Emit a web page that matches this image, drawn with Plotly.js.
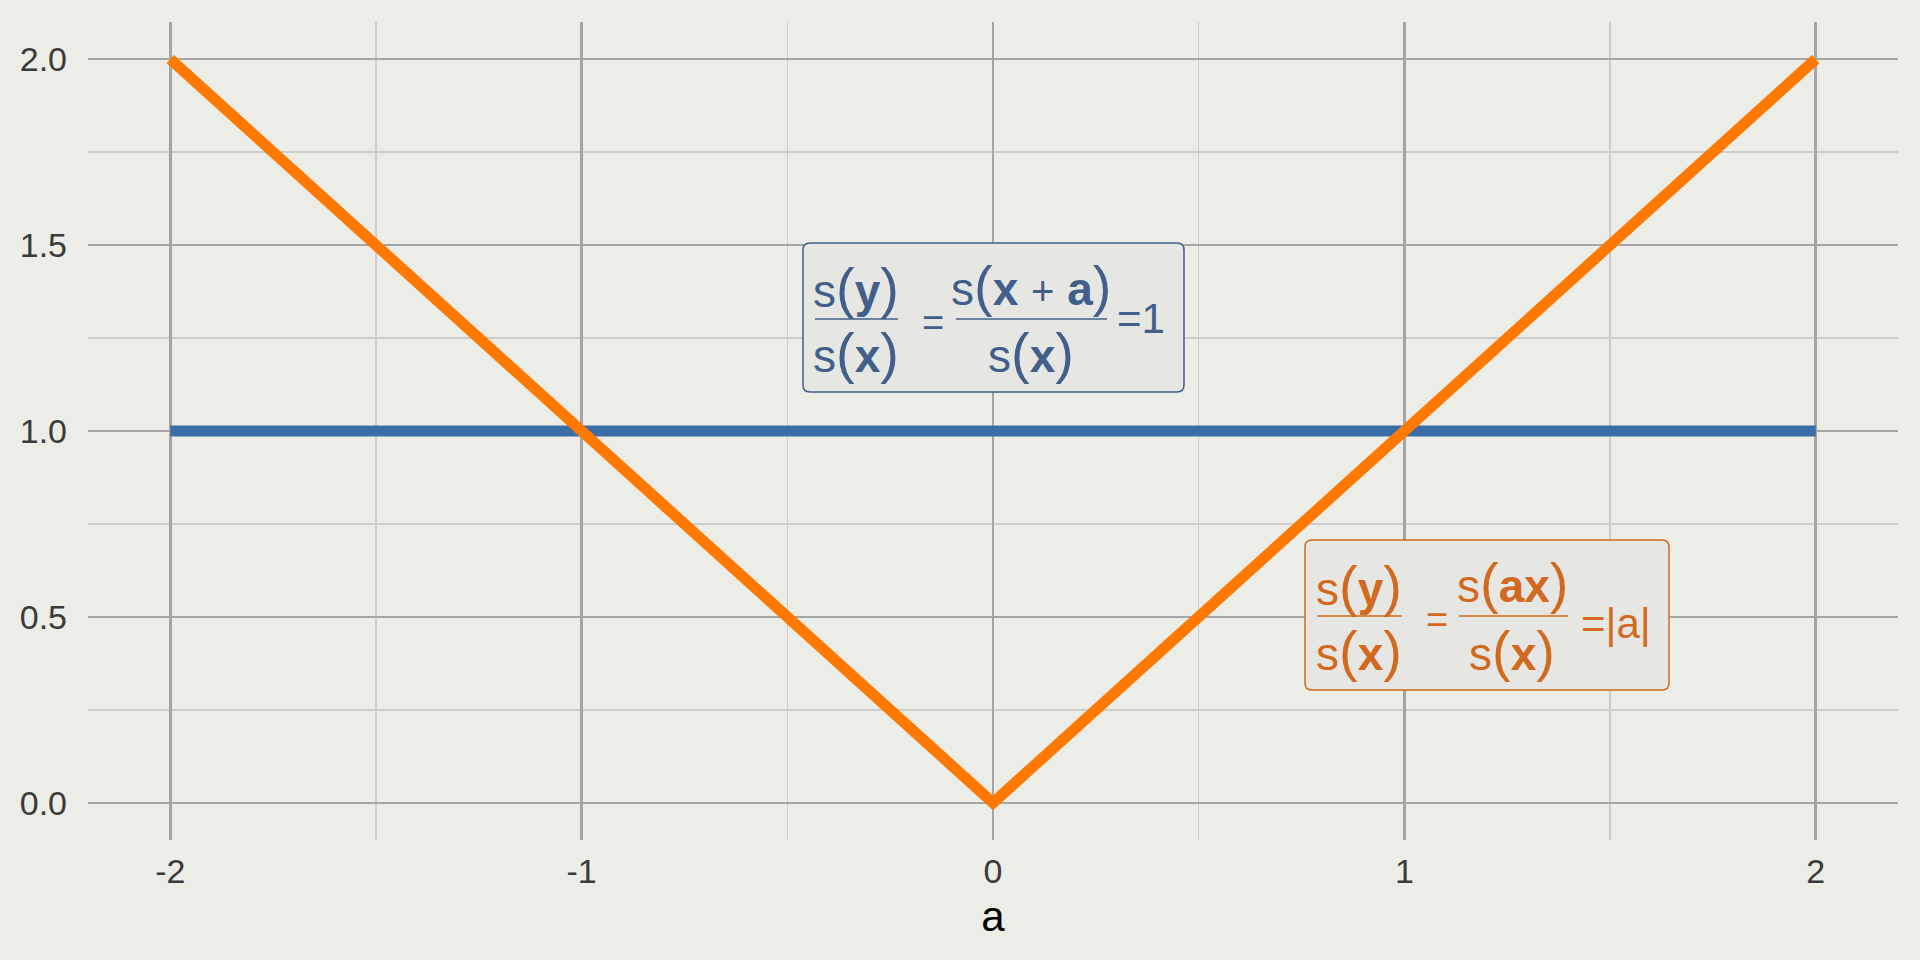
<!DOCTYPE html>
<html>
<head>
<meta charset="utf-8">
<script src="https://cdn.plot.ly/plotly-3.0.1.min.js"></script>
<style>html,body{margin:0;padding:0;background:#ecede6;}</style>
</head>
<body>
<div id="chart" style="width:1920px;height:960px;"></div>
<script>
// ---- data ----
const aValues = [-2, -1.5, -1, -0.5, 0, 0.5, 1, 1.5, 2];
const translationRatio = [1, 1, 1, 1, 1, 1, 1, 1, 1];
const scalingRatio = [2, 1.5, 1, 0.5, 0, 0.5, 1, 1.5, 2];
const xTickVals = [-2, -1, 0, 1, 2];
const xTickText = ['-2', '-1', '0', '1', '2'];
const yTickVals = [0, 0.5, 1, 1.5, 2];
const yTickText = ['0.0', '0.5', '1.0', '1.5', '2.0'];

// ---- styling ----
const W = 1920, H = 960;
const M = {l: 88, r: 22, t: 22, b: 120};
const PW = W - M.l - M.r, PH = H - M.t - M.b;
const BG = '#ecede6';
const BLUE_LINE = '#3a6ca8', ORANGE_LINE = '#ff7800';
const BLUE_TXT = '#405f8b', ORANGE_TXT = '#d2691e';
const FONT = 'Liberation Sans, Arial, Helvetica, sans-serif';

function px(x) { return (x - M.l) / PW; }
function py(y) { return (H - M.b - y) / PH; }

function roundedBox(x0, y0, x1, y1, r, color) {
  const pts = (x, y) => px(x) + ',' + py(y);
  const path = 'M' + pts(x0 + r, y0) + ' L' + pts(x1 - r, y0) +
    ' Q' + pts(x1, y0) + ' ' + pts(x1, y0 + r) +
    ' L' + pts(x1, y1 - r) + ' Q' + pts(x1, y1) + ' ' + pts(x1 - r, y1) +
    ' L' + pts(x0 + r, y1) + ' Q' + pts(x0, y1) + ' ' + pts(x0, y1 - r) +
    ' L' + pts(x0, y0 + r) + ' Q' + pts(x0, y0) + ' ' + pts(x0 + r, y0) + ' Z';
  return {type: 'path', xref: 'paper', yref: 'paper', path: path,
    fillcolor: '#e6e6e2', line: {color: color, width: 1.5}, layer: 'above'};
}
function hline(x0, x1, y, color) {
  return {type: 'line', xref: 'paper', yref: 'paper', x0: px(x0), x1: px(x1),
    y0: py(y), y1: py(y), line: {color: color, width: 1.5}, layer: 'above'};
}
function txt(x, y, text, color, size) {
  return {xref: 'paper', yref: 'paper', x: px(x), y: py(y), text: text,
    showarrow: false, xanchor: 'center', yanchor: 'middle',
    font: {family: FONT, size: size, color: color}};
}
const P = (c) => '<span style="font-size:56px">' + c + '</span>';
const sOf = (inner) => 's' + P('(') + inner + P(')');

const shapes = [
  roundedBox(803, 243, 1184, 392, 7, BLUE_TXT),
  hline(815, 898, 319, BLUE_TXT),
  hline(956, 1107, 319, BLUE_TXT),
  roundedBox(1305, 540, 1669, 690, 7, ORANGE_TXT),
  hline(1317, 1402, 616, ORANGE_TXT),
  hline(1459, 1568, 616, ORANGE_TXT)
];
const annotations = [
  txt(856, 287, sOf('<b>y</b>'), BLUE_TXT, 46),
  txt(856, 353, sOf('<b>x</b>'), BLUE_TXT, 46),
  txt(933, 323, '=', BLUE_TXT, 38),
  txt(1031, 285, sOf('<b>x</b> <span style="font-size:40px">+</span> <b>a</b>'), BLUE_TXT, 46),
  txt(1031, 353, sOf('<b>x</b>'), BLUE_TXT, 46),
  txt(1141, 318, '=1', BLUE_TXT, 42),
  txt(1359, 585, sOf('<b>y</b>'), ORANGE_TXT, 46),
  txt(1359, 650, sOf('<b>x</b>'), ORANGE_TXT, 46),
  txt(1437, 620, '=', ORANGE_TXT, 38),
  txt(1512, 582, sOf('<b>ax</b>'), ORANGE_TXT, 46),
  txt(1512, 650, sOf('<b>x</b>'), ORANGE_TXT, 46),
  txt(1616, 623, '=|a|', ORANGE_TXT, 42)
];

const traces = [
  {x: aValues, y: translationRatio, type: 'scatter', mode: 'lines',
   line: {color: BLUE_LINE, width: 11}, hoverinfo: 'skip', showlegend: false},
  {x: aValues, y: scalingRatio, type: 'scatter', mode: 'lines',
   line: {color: ORANGE_LINE, width: 11}, hoverinfo: 'skip', showlegend: false}
];

const layout = {
  width: W, height: H,
  margin: M,
  paper_bgcolor: BG, plot_bgcolor: BG,
  font: {family: FONT},
  showlegend: false,
  xaxis: {
    range: [-2.2, 2.2], tickvals: xTickVals, ticktext: xTickText,
    showgrid: true, gridcolor: '#a5a5a5', gridwidth: 2.5,
    zeroline: false, showline: false, ticks: '',
    minor: {dtick: 0.5, tick0: 0, showgrid: true, gridcolor: '#cdcdcb', gridwidth: 1.3},
    tickfont: {size: 34, color: '#3a3a3a', family: FONT},
    ticklabelstandoff: 8,
    title: {text: 'a', font: {size: 42, color: '#000000', family: FONT}, standoff: 12}
  },
  yaxis: {
    range: [-0.1, 2.1], tickvals: yTickVals, ticktext: yTickText,
    showgrid: true, gridcolor: '#a5a5a5', gridwidth: 2.5,
    zeroline: false, showline: false, ticks: '',
    minor: {dtick: 0.25, tick0: 0, showgrid: true, gridcolor: '#cdcdcb', gridwidth: 1.3},
    tickfont: {size: 34, color: '#3a3a3a', family: FONT},
    ticklabelstandoff: 20
  },
  shapes: shapes,
  annotations: annotations
};

Plotly.newPlot('chart', traces, layout, {staticPlot: true, displayModeBar: false});
</script>
</body>
</html>
